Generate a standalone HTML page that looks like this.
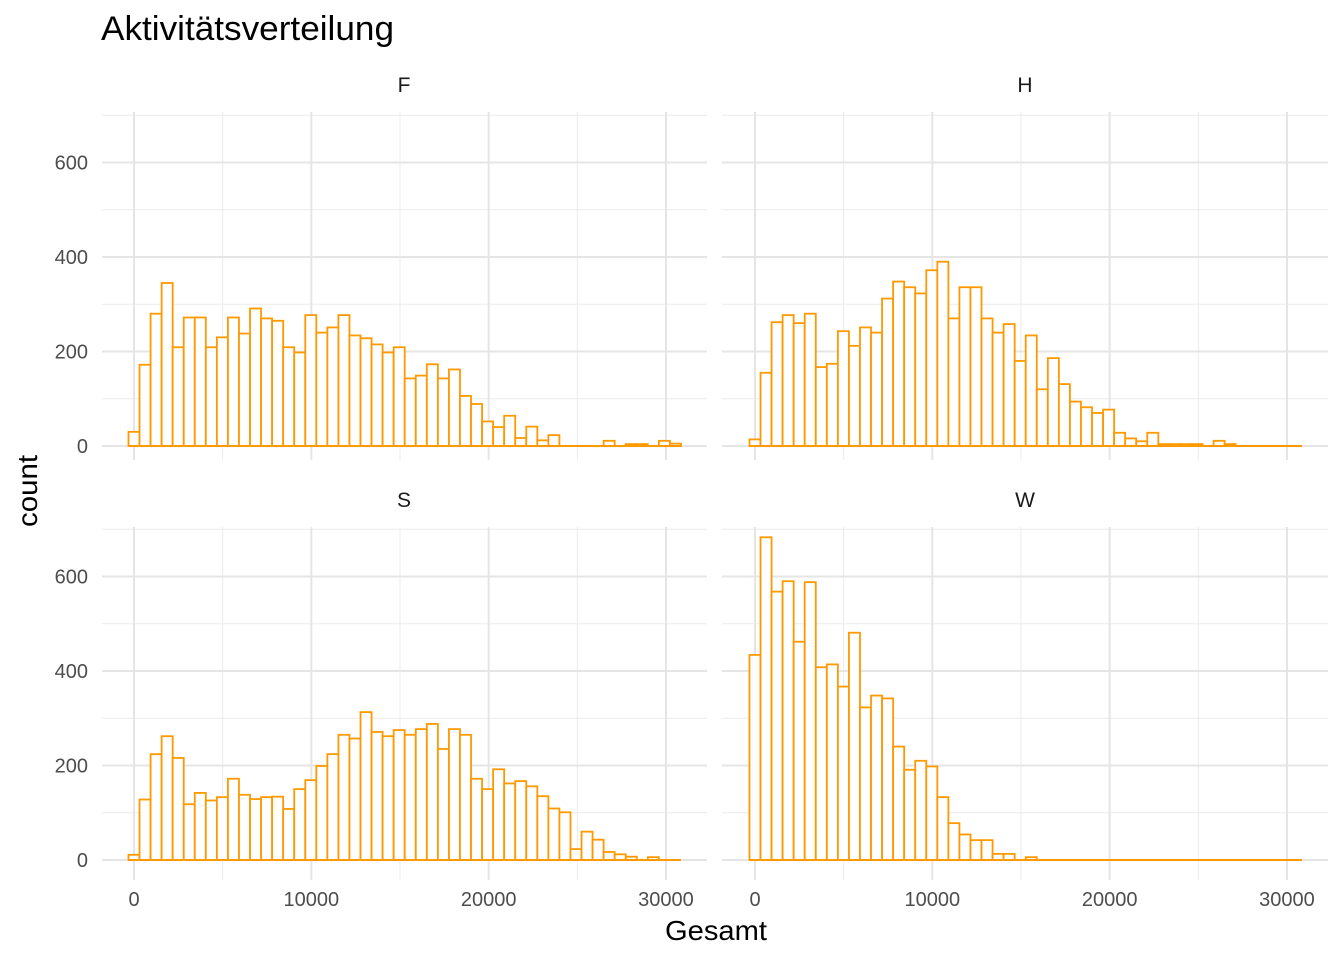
<!DOCTYPE html>
<html><head><meta charset="utf-8"><style>
html,body{margin:0;padding:0;background:#fff;}
svg{display:block;font-family:"Liberation Sans",Arial,sans-serif;}
</style></head><body>
<svg id="s" width="1344" height="960" viewBox="0 0 1344 960" xmlns="http://www.w3.org/2000/svg">
<text x="101" y="40" font-size="34" fill="#000" textLength="293" lengthAdjust="spacingAndGlyphs">Aktivitätsverteilung</text>
<text x="404" y="92" font-size="21" fill="#1a1a1a" text-anchor="middle">F</text>
<text x="1025" y="92" font-size="21" fill="#1a1a1a" text-anchor="middle">H</text>
<text x="404" y="507" font-size="21" fill="#1a1a1a" text-anchor="middle">S</text>
<text x="1025" y="507" font-size="21" fill="#1a1a1a" text-anchor="middle">W</text>
<text x="716" y="940" font-size="28" fill="#000" text-anchor="middle" textLength="102" lengthAdjust="spacingAndGlyphs">Gesamt</text>
<text transform="translate(37,491) rotate(-90)" font-size="28" fill="#000" text-anchor="middle" textLength="72" lengthAdjust="spacingAndGlyphs">count</text>
<g id="g"></g>
</svg>
<script>
var NS="http://www.w3.org/2000/svg",g=document.getElementById('g');
function el(t,a,txt){var e=document.createElementNS(NS,t);for(var k in a)e.setAttribute(k,a[k]);if(txt!=null)e.textContent=txt;g.appendChild(e);return e;}
var D={
F:[30,172,280,345,209,272,272,209,230,272,238,291,270,265,209,198,277,240,251,277,234,228,215,198,209,143,149,173,143,162,106,89,52,40,64,17,41,12,23,0,0,0,0,11,0,4,4,0,11,5],
H:[14,155,262,277,260,280,167,174,243,212,251,240,312,348,336,323,372,390,270,336,336,270,240,258,180,234,120,186,131,94,82,70,77,28,16,10,28,4,4,4,4,0,11,4,0,0,0,0,0,0],
S:[11,128,224,262,216,118,142,126,133,172,138,129,133,134,108,150,169,199,224,265,257,313,271,262,275,265,277,288,235,277,265,172,150,192,162,167,156,135,109,101,23,60,43,17,12,7,0,6,0,0],
W:[434,683,568,590,462,588,408,414,367,481,323,348,342,240,191,210,198,133,78,54,42,42,13,13,0,6,0,0,0,0,0,0,0,0,0,0,0,0,0,0,0,0,0,0,0,0,0,0,0,0]};
var panels=[["F",102,707,134,446,460,100],["H",722,1328,755,446,460,100],["S",102,707,134,860,880,515],["W",722,1328,755,860,880,515]];
var sx=0.017733, sy=0.4725;
panels.forEach(function(p){
 var k=p[0],x1=p[1],x2=p[2],ox=p[3],oy=p[4],bot=p[5],top=p[6];
 [100,300,500,700].forEach(function(v){var y=oy-v*sy;el('line',{x1:x1,x2:x2,y1:y,y2:y,stroke:'#ebebeb','stroke-width':1});});
 [5000,15000,25000].forEach(function(v){var x=ox+v*sx;el('line',{x1:x,x2:x,y1:top+12,y2:bot,stroke:'#ebebeb','stroke-width':1});});
 [0,200,400,600].forEach(function(v){var y=oy-v*sy;el('line',{x1:x1,x2:x2,y1:y,y2:y,stroke:'#e5e5e5','stroke-width':2});});
 [0,10000,20000,30000].forEach(function(v){var x=ox+v*sx;el('line',{x1:x,x2:x,y1:top+12,y2:bot,stroke:'#e5e5e5','stroke-width':2});});
 var bw=11.05,st=ox-bw/2;
 D[k].forEach(function(c,i){var h=c*sy;if(c>0)el('rect',{x:st+i*bw,y:oy-h,width:bw,height:h,fill:'#fff',stroke:'#ff9900','stroke-width':1.8});});
 el('line',{x1:st,x2:st+50*bw,y1:oy,y2:oy,stroke:'#ff9900','stroke-width':2});
 if(x1<400){[0,200,400,600].forEach(function(v){el('text',{x:88,y:oy-v*sy+7,'font-size':20,fill:'#4d4d4d','text-anchor':'end'},String(v));});}
 if(oy>800){[0,10000,20000,30000].forEach(function(v){el('text',{x:ox+v*sx,y:906,'font-size':20,fill:'#4d4d4d','text-anchor':'middle'},String(v));});}
});
</script>
</body></html>
